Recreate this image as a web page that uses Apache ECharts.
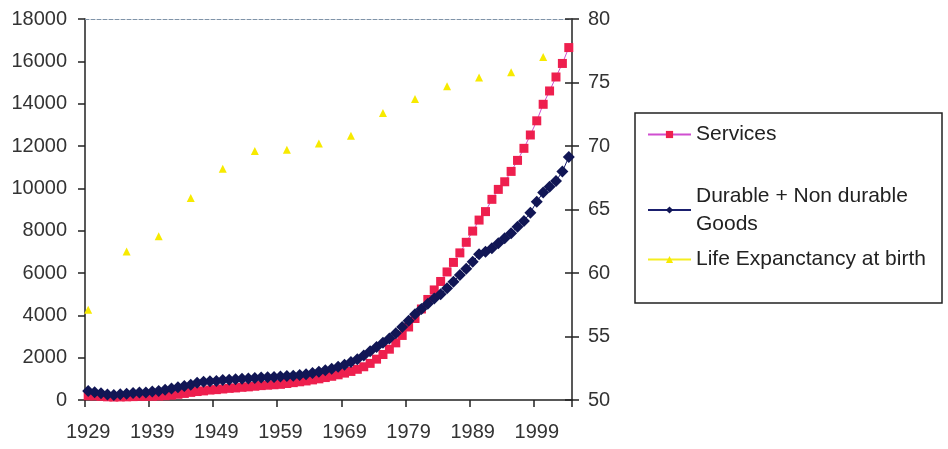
<!DOCTYPE html>
<html>
<head>
<meta charset="utf-8">
<script src="https://cdn.jsdelivr.net/npm/echarts@6/dist/echarts.min.js"></script>
<style>
  html, body { margin: 0; padding: 0; background: #fff; }
  #myChart { width: 948px; height: 449px; }
</style>
</head>
<body>
<div id="myChart"></div>
<script>
var years = ['1929','1930','1931','1932','1933','1934','1935','1936','1937','1938',
  '1939','1940','1941','1942','1943','1944','1945','1946','1947','1948',
  '1949','1950','1951','1952','1953','1954','1955','1956','1957','1958',
  '1959','1960','1961','1962','1963','1964','1965','1966','1967','1968',
  '1969','1970','1971','1972','1973','1974','1975','1976','1977','1978',
  '1979','1980','1981','1982','1983','1984','1985','1986','1987','1988',
  '1989','1990','1991','1992','1993','1994','1995','1996','1997','1998',
  '1999','2000','2001','2002','2003','2004'];

var services = [200,190,170,150,140,145,150,160,170,170,
  175,185,200,230,270,310,360,400,430,470,
  490,520,550,570,600,620,650,680,700,720,
  740,780,820,860,900,950,1000,1060,1120,1190,
  1270,1350,1450,1570,1730,1930,2150,2400,2700,3050,
  3450,3850,4300,4750,5200,5600,6050,6500,6950,7450,
  7980,8500,8900,9480,9950,10310,10800,11320,11890,12520,
  13190,13970,14600,15260,15900,16650];

var goods = [420,370,320,260,240,270,300,330,350,360,
  400,430,480,540,600,660,720,820,860,880,
  900,940,960,980,1000,1010,1040,1060,1080,1090,
  1110,1130,1150,1180,1220,1270,1340,1410,1480,1570,
  1670,1790,1930,2100,2300,2500,2700,2900,3150,3450,
  3750,4050,4300,4550,4800,5000,5280,5590,5900,6200,
  6530,6880,7000,7170,7400,7640,7880,8190,8460,8850,
  9370,9800,10080,10350,10790,11480];

var lifeYears = ['1929','1935','1940','1945','1950','1955','1960','1965','1970','1975','1980','1985','1990','1995','2000'];
var lifeValues = [57.1,61.7,62.9,65.9,68.2,69.6,69.7,70.2,70.8,72.6,73.7,74.7,75.4,75.8,77.0];

var leftTicks = [0, 18000, 2000];
var rightTicks = [50, 80, 5];

// life expectancy only exists every five years -> null elsewhere
var life = years.map(function (y) {
  var k = lifeYears.indexOf(y);
  return k >= 0 ? lifeValues[k] : null;
});

var font = 'Liberation Sans, Arial, sans-serif';
var every10 = function (i) { return i % 10 === 0; };

var myChart = echarts.init(document.getElementById('myChart'));
var option = {
  animation: false,
  backgroundColor: '#fff',
  grid: { left: 85, right: 376, top: 19, bottom: 49 },
  xAxis: [{
    type: 'category',
    data: years,
    boundaryGap: true,
    axisLine: { lineStyle: { color: '#222', width: 1.5 } },
    axisTick: { show: true, interval: every10, length: 7, lineStyle: { color: '#222', width: 1.5 } },
    axisLabel: { interval: every10, margin: 22, color: '#333', fontSize: 20, fontFamily: font },
    splitLine: { show: false }
  }, {
    type: 'category',
    data: years,
    position: 'top',
    boundaryGap: true,
    axisLine: { lineStyle: { color: '#7f93a8', width: 1, type: 'dashed' } },
    axisTick: { show: false },
    axisLabel: { show: false }
  }],
  yAxis: [{
    type: 'value',
    min: leftTicks[0], max: leftTicks[1], interval: leftTicks[2],
    position: 'left',
    axisLine: { show: true, lineStyle: { color: '#222', width: 1.5 } },
    axisTick: { show: true, length: 7, lineStyle: { color: '#222', width: 1.5 } },
    axisLabel: { margin: 18, color: '#333', fontSize: 20, fontFamily: font,
      formatter: function (v) { return String(v); } },
    splitLine: { show: false }
  }, {
    type: 'value',
    min: rightTicks[0], max: rightTicks[1], interval: rightTicks[2],
    position: 'right',
    axisLine: { show: true, lineStyle: { color: '#222', width: 1.5 } },
    axisTick: { show: true, length: 7, lineStyle: { color: '#222', width: 1.5 } },
    axisLabel: { margin: 16, color: '#333', fontSize: 20, fontFamily: font },
    splitLine: { show: false }
  }, {
    // inner half of the crossing ticks on the right axis
    type: 'value',
    min: rightTicks[0], max: rightTicks[1], interval: rightTicks[2],
    position: 'right',
    axisLine: { show: false },
    axisTick: { show: true, inside: true, length: 7, lineStyle: { color: '#222', width: 1.5 } },
    axisLabel: { show: false },
    splitLine: { show: false }
  }],
  legend: [{
    data: ['Services'],
    left: 642, top: 119,
    itemWidth: 43, itemHeight: 9,
    textStyle: { fontSize: 21, fontFamily: font, color: '#222' }
  }, {
    data: ['Durable + Non durable\nGoods'],
    left: 642, top: 177,
    itemWidth: 43, itemHeight: 9,
    textStyle: { fontSize: 21, lineHeight: 28, fontFamily: font, color: '#222' }
  }, {
    data: ['Life Expanctancy at birth'],
    left: 642, top: 244,
    itemWidth: 43, itemHeight: 9,
    textStyle: { fontSize: 21, fontFamily: font, color: '#222' }
  }],
  graphic: [{
    type: 'rect',
    shape: { x: 635, y: 113, width: 307, height: 190 },
    style: { fill: 'none', stroke: '#222', lineWidth: 1.5 },
    silent: true
  }],
  series: [{
    name: 'Services',
    type: 'line',
    data: services,
    yAxisIndex: 0,
    symbol: 'rect',
    symbolSize: 9,
    showAllSymbol: true,
    lineStyle: { color: '#d04fd0', width: 1 },
    itemStyle: { color: '#ee1f4e' },
    z: 3
  }, {
    name: 'Durable + Non durable\nGoods',
    type: 'line',
    data: goods,
    yAxisIndex: 0,
    symbol: 'diamond',
    symbolSize: 12,
    showAllSymbol: true,
    lineStyle: { color: '#1a1f6e', width: 1 },
    itemStyle: { color: '#111655' },
    z: 4
  }, {
    name: 'Life Expanctancy at birth',
    type: 'line',
    data: life,
    yAxisIndex: 1,
    symbol: 'triangle',
    symbolSize: 8,
    showAllSymbol: true,
    connectNulls: false,
    lineStyle: { color: '#f5ee20', width: 1 },
    itemStyle: { color: '#f7ea00' },
    z: 2
  }]
};
myChart.setOption(option);
</script>
</body>
</html>
